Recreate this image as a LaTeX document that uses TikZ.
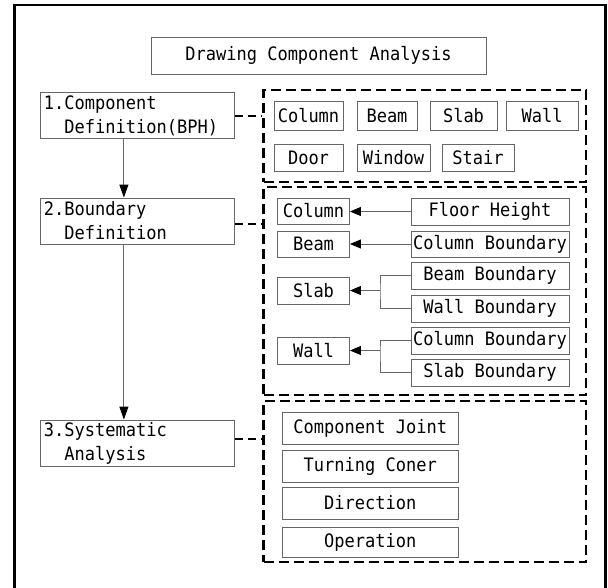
\documentclass[tikz,border=0pt]{standalone}
\usepackage{fontspec}
\newfontfamily\reffont[FakeStretch=0.92]{DejaVu Sans Mono}
\usetikzlibrary{arrows.meta,calc}
\begin{document}
\begin{tikzpicture}[x=1pt,y=-1pt,
  box/.style={draw=black!60, line width=0.9pt, inner sep=0pt,
    font=\reffont\fontsize{18.5}{24}\selectfont, text=black},
  dbox/.style={draw=black, line width=2.5pt, dash pattern=on 10pt off 5pt, inner sep=0pt},
  conn/.style={draw=black!60, line width=0.9pt},
  dconn/.style={draw=black, line width=2.5pt, dash pattern=on 8pt off 5pt},
  varrow/.style={conn, -{Triangle[length=13pt,width=9pt,color=black]}},
  harrow/.style={conn, -{Triangle[length=11pt,width=9pt,color=black]}},
  lbox/.style={box, text width=188pt, align=left, inner xsep=3pt, minimum height=46pt},
]
\useasboundingbox (0,0) rectangle (608,587);
\clip (0,0) rectangle (608,587);
\draw[line width=2.6pt] (14.7,5) rectangle (605.7,600);

% title
\node[box, minimum width=335pt, minimum height=37pt] (title) at (318.5,55.5) {Drawing Component Analysis};

% left steps
\node[lbox] (s1) at (137.9,115.8) {1.Component\\\phantom{1.}Definition(BPH)};
\node[lbox] (s2) at (137.9,221) {2.Boundary\\\phantom{2.}Definition};
\node[lbox] (s3) at (137.9,443) {3.Systematic\\\phantom{3.}Analysis};

% dashed groups
\node[dbox, minimum width=322.5pt, minimum height=92pt] (d1) at (424.75,136) {};
\node[dbox, minimum width=322.5pt, minimum height=208pt] (d2) at (424.75,291) {};
\node[dbox, minimum width=322.5pt, minimum height=161pt] (d3) at (424.75,481.5) {};

% group 1
\node[box, minimum width=69pt, minimum height=29pt] (c1) at (308.5,116) {Column};
\node[box, minimum width=60pt, minimum height=29pt] (b1) at (387,116) {Beam};
\node[box, minimum width=67pt, minimum height=29pt] (sl1) at (463.5,116) {Slab};
\node[box, minimum width=72pt, minimum height=29pt] (w1) at (542,116) {Wall};
\node[box, minimum width=69pt, minimum height=27pt] (door) at (308.5,157.5) {Door};
\node[box, minimum width=73pt, minimum height=27pt] (win) at (393.5,157.5) {Window};
\node[box, minimum width=72pt, minimum height=27pt] (stair) at (478,157.5) {Stair};

% group 2
\node[box, minimum width=72pt, minimum height=26pt] (col2) at (313.5,211) {Column};
\node[box, minimum width=72pt, minimum height=26pt] (beam2) at (313.5,244) {Beam};
\node[box, minimum width=72pt, minimum height=27pt] (slab2) at (313.5,290.5) {Slab};
\node[box, minimum width=72pt, minimum height=27pt] (wall2) at (313.5,350.5) {Wall};

\node[box, minimum width=158pt, minimum height=27pt] (floorh) at (490,211.5) {Floor Height};
\node[box, minimum width=158pt, minimum height=26pt] (colb1) at (490,244) {Column Boundary};
\node[box, minimum width=158pt, minimum height=27pt] (beamb) at (490,275.5) {Beam Boundary};
\node[box, minimum width=158pt, minimum height=27pt] (wallb) at (490,308.5) {Wall Boundary};
\node[box, minimum width=158pt, minimum height=27pt] (colb2) at (490,340.5) {Column Boundary};
\node[box, minimum width=158pt, minimum height=27pt] (slabb) at (490,372.5) {Slab Boundary};

% group 3
\node[box, minimum width=176.5pt, minimum height=32pt] (cj) at (370.3,428) {Component Joint};
\node[box, minimum width=176.5pt, minimum height=32pt] (tc) at (370.3,466) {Turning Coner};
\node[box, minimum width=176.5pt, minimum height=32pt] (dir) at (370.3,503) {Direction};
\node[box, minimum width=176.5pt, minimum height=30pt] (op) at (370.3,542) {Operation};

% dashed connectors
\draw[dconn] (s1.east) -- (s1.east -| d1.west);
\draw[dconn] ([yshift=-3pt]s2.east) -- ([yshift=-3pt]s2.east -| d2.west);
\draw[dconn] ([yshift=4pt]s3.east) -- ([yshift=4pt]s3.east -| d3.west);

% vertical flow
\draw[varrow] ([xshift=-14pt]s1.south) -- ([xshift=-14pt]s2.north);
\draw[varrow] ([xshift=-14pt]s2.south) -- ([xshift=-14pt]s3.north);

% boundary arrows
\draw[harrow] (floorh.west) -- (floorh.west -| col2.east);
\draw[harrow] (colb1.west) -- (colb1.west -| beam2.east);
\coordinate (sj) at (380,290.5);
\draw[conn] (beamb.west) -| (sj) |- (wallb.west);
\draw[harrow] (sj) -- (slab2.east);
\coordinate (wj) at (380,350.5);
\draw[conn] (colb2.west) -| (wj) |- (slabb.west);
\draw[harrow] (wj) -- (wall2.east);
\end{tikzpicture}
\end{document}
